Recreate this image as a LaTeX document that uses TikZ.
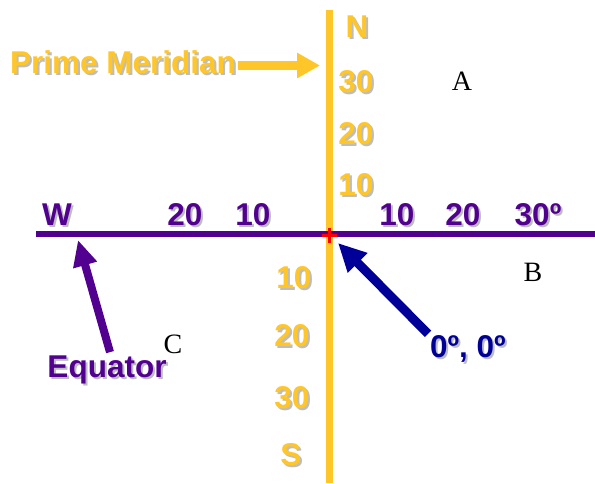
\documentclass[tikz,border=0pt]{standalone}
\usepackage{fontspec}
\setmainfont{Liberation Sans}
\newfontfamily\romanfont{Liberation Serif}
\usetikzlibrary{arrows.meta}
\definecolor{mergold}{HTML}{FFC629}
\definecolor{eqpurple}{HTML}{52008F}
\definecolor{orignavy}{HTML}{000099}
\definecolor{shgray}{HTML}{BDBDBD}
\definecolor{plusred}{HTML}{FF0000}

% label with a soft grey drop shadow
\newcommand{\shlabel}[5]{%
  \node[lbl, text=shgray, xshift=2pt, yshift=-2pt, #2] (#1sh) at (#3) {#5};
  \node[lbl, text=#4, #2] (#1) at (#3) {#5};}

\begin{document}
\begin{tikzpicture}[x=1pt, y=-1pt,
  lbl/.style={inner sep=0pt, font=\fontsize{31.5}{34}\selectfont\bfseries},
  quad/.style={inner sep=0pt, font=\romanfont\fontsize{28}{30}\selectfont},
  pointer/.style={line width=#1}]

\useasboundingbox (0,0) rectangle (595,483);

% Axes
\coordinate (origin) at (329.5,234);
\draw[mergold, line width=7pt] (329.5,10) -- (329.5,483);
\draw[eqpurple, line width=6.5pt] (36,234) -- (595,234);
\draw[plusred, line width=3pt] (322,235.5) -- (337,235.5) (329.5,228) -- (329.5,243);

% Latitude labels
\shlabel{north}{}{357,27}{mergold}{N}
\shlabel{n30}{}{356,82}{mergold}{30}
\shlabel{n20}{}{356,134}{mergold}{20}
\shlabel{n10}{}{356,185}{mergold}{10}
\shlabel{s10}{}{294,278}{mergold}{10}
\shlabel{s20}{}{292,336}{mergold}{20}
\shlabel{s30}{}{292,398}{mergold}{30}
\shlabel{south}{}{291,455}{mergold}{S}

% Longitude labels
\shlabel{west}{}{57,215}{eqpurple}{W}
\shlabel{w20}{}{185,215}{eqpurple}{20}
\shlabel{w10}{}{253,215}{eqpurple}{10}
\shlabel{e10}{}{397,215}{eqpurple}{10}
\shlabel{e20}{}{463,215}{eqpurple}{20}
\shlabel{e30}{}{538,215}{eqpurple}{30º}

% Quadrant letters
\node[quad] (qa) at (462,81) {A};
\node[quad] (qb) at (533,272) {B};
\node[quad] (qc) at (173,344) {C};

% Callouts
\shlabel{pm}{}{123,62}{mergold}{Prime Meridian}
\coordinate (pmtip) at (320,65.5);
\draw[mergold, pointer=9pt, -{Triangle[length=23pt, width=24pt]}]
  ([xshift=2pt, yshift=-3.5pt]pm.east) -- (pmtip);

\shlabel{eq}{anchor=base}{107,377}{eqpurple}{Equator}
\coordinate (eqtip) at (78,240);
\draw[eqpurple, pointer=8pt, -{Triangle[length=26pt, width=23pt]}]
  ([xshift=3pt, yshift=3pt]eq.north) -- (eqtip);

\shlabel{orig}{anchor=base}{468,357}{orignavy}{0º, 0º}
\coordinate (origtip) at (338,243);
\draw[orignavy, pointer=9pt, -{Triangle[length=28pt, width=26pt]}]
  ([xshift=-2pt, yshift=1pt]orig.north west) -- (origtip);

\end{tikzpicture}
\end{document}
